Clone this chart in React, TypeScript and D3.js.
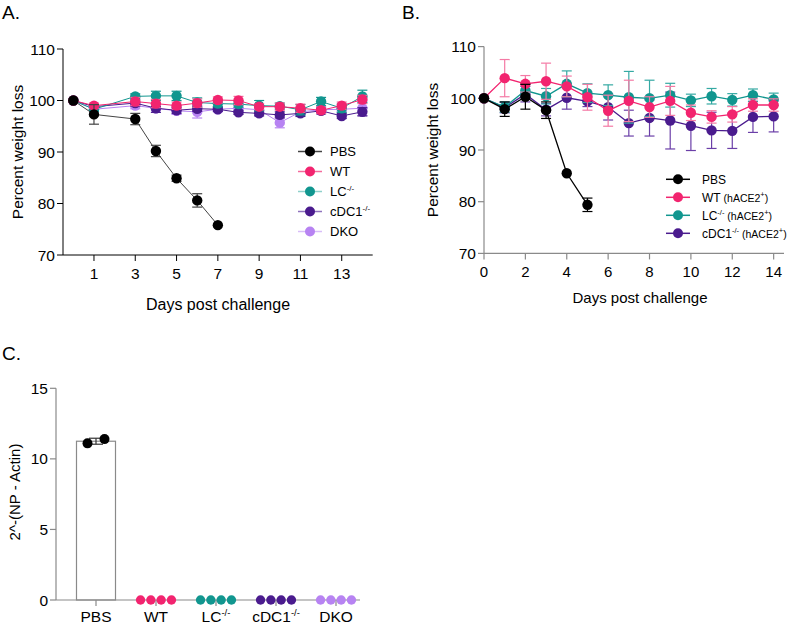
import React from "react";
import * as d3 from "d3";

const FONT = "'Liberation Sans', Arial, Helvetica, sans-serif";

// ---------- Panel A data ----------
const daysA = [0, 1, 3, 4, 5, 6, 7, 8, 9, 10, 11, 12, 13, 14];
const pbsDaysA = [0, 1, 3, 4, 5, 6, 7];
const pbsA = [100, 97.3, 96.4, 90.2, 84.9, 80.6, 75.8];
const pbsErrA = [0, 1.9, 1.1, 1.1, 0.6, 1.3, 0];
const wtA = [100, 99.0, 99.8, 99.4, 99.0, 99.5, 100.1, 100.0, 98.8, 98.8, 98.5, 98.1, 99.0, 100.2];
const wtErrA = [0, 0.5, 0.8, 0.8, 0.7, 0.8, 0.6, 0.8, 0.6, 0.7, 0.8, 0.6, 0.7, 0.8];
const lcA = [100, 98.3, 100.8, 100.9, 100.9, 99.6, 99.4, 99.3, 99.0, 98.9, 98.2, 99.8, 98.5, 100.8];
const lcErrA = [0, 0.4, 0.5, 0.9, 0.9, 0.9, 0.6, 0.6, 1.0, 0.6, 1.0, 0.8, 0.8, 1.2];
const cdcA = [100, 98.8, 99.5, 98.5, 98.1, 98.4, 98.3, 97.7, 97.5, 97.2, 97.5, 98.0, 97.0, 97.8];
const cdcErrA = [0, 0.4, 0.6, 0.8, 0.6, 0.5, 0.4, 0.4, 0.5, 0.6, 0.6, 0.6, 0.5, 0.8];
const dkoA = [100, 98.3, 99.0, 98.5, 98.0, 97.8, 98.3, 98.5, 98.2, 95.7, 97.8, 98.2, 98.3, 98.5];
const dkoErrA = [0, 0.5, 0.6, 0.8, 0.7, 1.2, 0.5, 0.6, 0.5, 1.0, 0.6, 0.6, 0.5, 1.4];
const xTicksA = [1, 3, 5, 7, 9, 11, 13];
const yTicksAB = [70, 80, 90, 100, 110];

// ---------- Panel B data ----------
const daysB = [0, 1, 2, 3, 4, 5, 6, 7, 8, 9, 10, 11, 12, 13, 14];
const pbsDaysB = [0, 1, 2, 3, 4, 5];
const pbsB = [100, 97.9, 100.3, 97.7, 85.5, 79.4];
const pbsErrB = [0, 1.4, 2.4, 1.6, 0, 1.3];
const wtB = [100, 103.9, 102.8, 103.3, 102.3, 100.2, 97.6, 99.5, 98.3, 99.5, 97.2, 96.4, 96.9, 98.7, 98.7];
const wtErrB = [0, 3.6, 1.6, 3.5, 2.0, 2.5, 3.0, 4.0, 2.0, 2.8, 1.5, 1.2, 1.5, 1.2, 1.2];
const lcB = [100, 98.3, 101.5, 100.4, 102.8, 101.0, 100.6, 100.2, 100.0, 100.6, 99.6, 100.4, 99.7, 100.6, 99.8];
const lcErrB = [0, 1.0, 1.2, 1.5, 2.5, 1.8, 2.0, 5.0, 3.5, 2.3, 1.2, 1.5, 1.2, 1.2, 1.2];
const cdcB = [100, 98.2, 100.8, 97.8, 100.1, 99.4, 98.3, 95.2, 96.2, 95.7, 94.7, 93.8, 93.7, 96.4, 96.5];
const cdcErrB = [0, 1.0, 1.5, 1.2, 2.2, 1.0, 2.5, 2.5, 3.5, 5.5, 4.8, 3.5, 3.4, 3.0, 3.0];
const xTicksB = [0, 2, 4, 6, 8, 10, 12, 14];

// ---------- Panel C data ----------
const groupsC = ["PBS", "WT", "LC", "cDC1", "DKO"];
const pbsPointsC = [11.1, 11.4];
const zeroPointsC = [0, 0, 0, 0];
const yTicksC = [0, 5, 10, 15];

const C_PBS = "#000000";
const C_WT = "#F2246F";
const C_LC = "#11968F";
const C_CDC = "#4A1B8E";
const C_DKO = "#B783F2";

type Series = { days: number[]; vals: number[]; errs: number[]; color: string; lineColor: string; errColor: string; lw: number };

function Lines({ series, x, y, r }: { series: Series[]; x: any; y: any; r: number }) {
  const line = d3.line<[number, number]>().x((d) => x(d[0])).y((d) => y(d[1]));
  return (
    <g>
      {series.map((s, i) => {
        const pts: [number, number][] = s.days.map((d, j) => [d, s.vals[j]]);
        return (
          <g key={i}>
            <path d={line(pts) || ""} fill="none" stroke={s.lineColor} strokeWidth={s.lw} />
            {pts.map((p, j) =>
              s.errs[j] > 0 ? (
                <g key={"e" + j} stroke={s.errColor} strokeWidth={1.2}>
                  <line x1={x(p[0])} x2={x(p[0])} y1={y(p[1] - s.errs[j])} y2={y(p[1] + s.errs[j])} />
                  <line x1={x(p[0]) - 5} x2={x(p[0]) + 5} y1={y(p[1] - s.errs[j])} y2={y(p[1] - s.errs[j])} />
                  <line x1={x(p[0]) - 5} x2={x(p[0]) + 5} y1={y(p[1] + s.errs[j])} y2={y(p[1] + s.errs[j])} />
                </g>
              ) : null
            )}
            {pts.map((p, j) => (
              <circle key={"c" + j} cx={x(p[0])} cy={y(p[1])} r={r} fill={s.color} />
            ))}
          </g>
        );
      })}
    </g>
  );
}

export default function App() {
  // Panel A scales
  const xA = d3.scaleLinear().domain([-0.5, 14.5]).range([63, 372.7]);
  const yA = d3.scaleLinear().domain([70, 110]).range([255, 49]);
  // Panel B scales
  const xB = d3.scaleLinear().domain([0, 14.5]).range([484, 784]);
  const yB = d3.scaleLinear().domain([70, 110]).range([253.4, 46.6]);
  // Panel C scales
  const xC = d3.scaleBand<string>().domain(groupsC).range([66, 366]).padding(0);
  const yC = d3.scaleLinear().domain([0, 15]).range([600, 388.3]);

  const seriesA: Series[] = [
    { days: daysA, vals: dkoA, errs: dkoErrA, color: C_DKO, lineColor: C_DKO, errColor: C_DKO, lw: 1 },
    { days: daysA, vals: cdcA, errs: cdcErrA, color: C_CDC, lineColor: C_CDC, errColor: C_CDC, lw: 1 },
    { days: daysA, vals: lcA, errs: lcErrA, color: C_LC, lineColor: C_LC, errColor: C_LC, lw: 1 },
    { days: daysA, vals: wtA, errs: wtErrA, color: C_WT, lineColor: C_WT, errColor: "#F46A9C", lw: 1 },
    { days: pbsDaysA, vals: pbsA, errs: pbsErrA, color: C_PBS, lineColor: "#444", errColor: "#444", lw: 1 },
  ];
  const seriesB: Series[] = [
    { days: daysB, vals: cdcB, errs: cdcErrB, color: C_CDC, lineColor: C_CDC, errColor: "#6B3FA8", lw: 1.3 },
    { days: daysB, vals: lcB, errs: lcErrB, color: C_LC, lineColor: C_LC, errColor: "#35A9A3", lw: 1.3 },
    { days: daysB, vals: wtB, errs: wtErrB, color: C_WT, lineColor: C_WT, errColor: "#F47AA5", lw: 1.3 },
    { days: pbsDaysB, vals: pbsB, errs: pbsErrB, color: C_PBS, lineColor: C_PBS, errColor: C_PBS, lw: 1.3 },
  ];

  const legendA = [
    { label: "PBS", sup: "", color: C_PBS, line: "#444" },
    { label: "WT", sup: "", color: C_WT, line: "#F46A9C" },
    { label: "LC", sup: "-/-", color: C_LC, line: "#8FD0CB" },
    { label: "cDC1", sup: "-/-", color: C_CDC, line: "#8F72BD" },
    { label: "DKO", sup: "", color: C_DKO, line: "#D8BDF8" },
  ];
  const legendB = [
    { label: "PBS", sup: "", hace: false, color: C_PBS },
    { label: "WT", sup: "", hace: true, color: C_WT },
    { label: "LC", sup: "-/-", hace: true, color: C_LC },
    { label: "cDC1", sup: "-/-", hace: true, color: C_CDC },
  ];

  const gray = "#8a8a8a";
  const pbsMean = d3.mean(pbsPointsC) as number;
  const pbsSd = d3.deviation(pbsPointsC) as number;

  return (
    <svg width={795} height={625} style={{ position: "absolute", left: 0, top: 0, background: "#fff" }} fontFamily={FONT}>
      {/* ======== Panel A ======== */}
      <text x={2} y={19} fontSize={19}>A.</text>
      <g stroke="#000" strokeWidth={1}>
        <line x1={63} x2={63} y1={yA(110)} y2={yA(70)} />
        <line x1={63} x2={372.7} y1={yA(70)} y2={yA(70)} />
        {yTicksAB.map((t) => (
          <line key={t} x1={57} x2={63} y1={yA(t)} y2={yA(t)} />
        ))}
        {xTicksA.map((t) => (
          <line key={t} x1={xA(t)} x2={xA(t)} y1={yA(70)} y2={yA(70) + 6} />
        ))}
      </g>
      {yTicksAB.map((t) => (
        <text key={t} x={55} y={yA(t) + 5.5} fontSize={15.5} textAnchor="end">{t}</text>
      ))}
      {xTicksA.map((t) => (
        <text key={t} x={xA(t)} y={278.5} fontSize={15.5} textAnchor="middle">{t}</text>
      ))}
      <text x={218} y={310} fontSize={16} textAnchor="middle">Days post challenge</text>
      <text transform={`translate(23,${152}) rotate(-90)`} fontSize={15.5} textAnchor="middle">Percent weight loss</text>
      <Lines series={seriesA} x={xA} y={yA} r={5.2} />
      {legendA.map((l, i) => {
        const ly = 151.5 + i * 20;
        return (
          <g key={l.label}>
            <line x1={298} x2={322} y1={ly} y2={ly} stroke={l.line} strokeWidth={1.5} />
            <circle cx={310} cy={ly} r={5} fill={l.color} />
            <text x={330} y={ly + 4.5} fontSize={13}>
              <tspan>{l.label}</tspan>
              {l.sup ? <tspan fontSize={8} dy={-5}>{l.sup}</tspan> : null}
            </text>
          </g>
        );
      })}

      {/* ======== Panel B ======== */}
      <text x={402} y={19} fontSize={19}>B.</text>
      <g stroke={gray} strokeWidth={1.2}>
        <line x1={484} x2={484} y1={yB(110)} y2={yB(70)} />
        <line x1={484} x2={784} y1={yB(70)} y2={yB(70)} />
        {yTicksAB.map((t) => (
          <line key={t} x1={478} x2={484} y1={yB(t)} y2={yB(t)} />
        ))}
        {xTicksB.map((t) => (
          <line key={t} x1={xB(t)} x2={xB(t)} y1={yB(70)} y2={yB(70) + 6} />
        ))}
      </g>
      {yTicksAB.map((t) => (
        <text key={t} x={476} y={yB(t) + 5.5} fontSize={15.5} textAnchor="end">{t}</text>
      ))}
      {xTicksB.map((t) => (
        <text key={t} x={xB(t)} y={277} fontSize={15} textAnchor="middle">{t}</text>
      ))}
      <text x={640} y={303} fontSize={15} textAnchor="middle">Days post challenge</text>
      <text transform={`translate(438,${150}) rotate(-90)`} fontSize={15.5} textAnchor="middle">Percent weight loss</text>
      <Lines series={seriesB} x={xB} y={yB} r={5.2} />
      {legendB.map((l, i) => {
        const ly = 179.3 + i * 18;
        return (
          <g key={l.label}>
            <line x1={666} x2={690} y1={ly} y2={ly} stroke={l.color} strokeWidth={1.5} />
            <circle cx={678} cy={ly} r={5} fill={l.color} />
            <text x={702} y={ly + 4.5} fontSize={12}>
              <tspan>{l.label}</tspan>
              {l.sup ? <tspan fontSize={7.5} dy={-5}>{l.sup}</tspan> : null}
              {l.hace ? <tspan fontSize={10.5} dy={l.sup ? 5 : 0}>{" (hACE2"}</tspan> : null}
              {l.hace ? <tspan fontSize={7.5} dy={-5}>+</tspan> : null}
              {l.hace ? <tspan fontSize={10.5} dy={5}>)</tspan> : null}
            </text>
          </g>
        );
      })}

      {/* ======== Panel C ======== */}
      <text x={2} y={360} fontSize={19}>C.</text>
      <rect
        x={(xC("PBS") as number) + xC.bandwidth() / 2 - 19.5}
        y={yC(pbsMean)}
        width={39}
        height={yC(0) - yC(pbsMean)}
        fill="#fff"
        stroke={gray}
        strokeWidth={1.2}
      />
      <g stroke={gray} strokeWidth={1.2}>
        <line x1={56} x2={56} y1={yC(15)} y2={yC(0)} />
        <line x1={56} x2={360} y1={yC(0)} y2={yC(0)} />
        {yTicksC.map((t) => (
          <line key={t} x1={50} x2={56} y1={yC(t)} y2={yC(t)} />
        ))}
        {groupsC.map((g) => (
          <line key={g} x1={(xC(g) as number) + xC.bandwidth() / 2} x2={(xC(g) as number) + xC.bandwidth() / 2} y1={yC(0)} y2={yC(0) + 6} />
        ))}
      </g>
      {yTicksC.map((t) => (
        <text key={t} x={48} y={yC(t) + 5.5} fontSize={15.5} textAnchor="end">{t}</text>
      ))}
      <text transform={`translate(20,${492}) rotate(-90)`} fontSize={15} textAnchor="middle">2^-(NP - Actin)</text>
      {(() => {
        const cx = (xC("PBS") as number) + xC.bandwidth() / 2;
        return (
          <g stroke="#333" strokeWidth={1.2}>
            <line x1={cx} x2={cx} y1={yC(pbsMean - pbsSd)} y2={yC(pbsMean + pbsSd)} />
            <line x1={cx - 7} x2={cx + 7} y1={yC(pbsMean + pbsSd)} y2={yC(pbsMean + pbsSd)} />
            <line x1={cx - 7} x2={cx + 7} y1={yC(pbsMean - pbsSd)} y2={yC(pbsMean - pbsSd)} />
          </g>
        );
      })()}
      {pbsPointsC.map((v, i) => (
        <circle key={"p" + i} cx={(xC("PBS") as number) + xC.bandwidth() / 2 + (i === 0 ? -8.5 : 8.5)} cy={yC(v)} r={5} fill={C_PBS} />
      ))}
      {[
        { g: "WT", c: C_WT },
        { g: "LC", c: C_LC },
        { g: "cDC1", c: C_CDC },
        { g: "DKO", c: C_DKO },
      ].map(({ g, c }) =>
        zeroPointsC.map((v, i) => (
          <circle key={g + i} cx={(xC(g) as number) + xC.bandwidth() / 2 + (i - 1.5) * 10.3} cy={yC(v)} r={4.7} fill={c} />
        ))
      )}
      {groupsC.map((g) => {
        const cx = (xC(g) as number) + xC.bandwidth() / 2;
        const sup = g === "LC" || g === "cDC1";
        return (
          <text key={g} x={cx} y={622} fontSize={15.5} textAnchor="middle">
            <tspan>{g}</tspan>
            {sup ? <tspan fontSize={9.5} dy={-6}>-/-</tspan> : null}
          </text>
        );
      })}
    </svg>
  );
}
